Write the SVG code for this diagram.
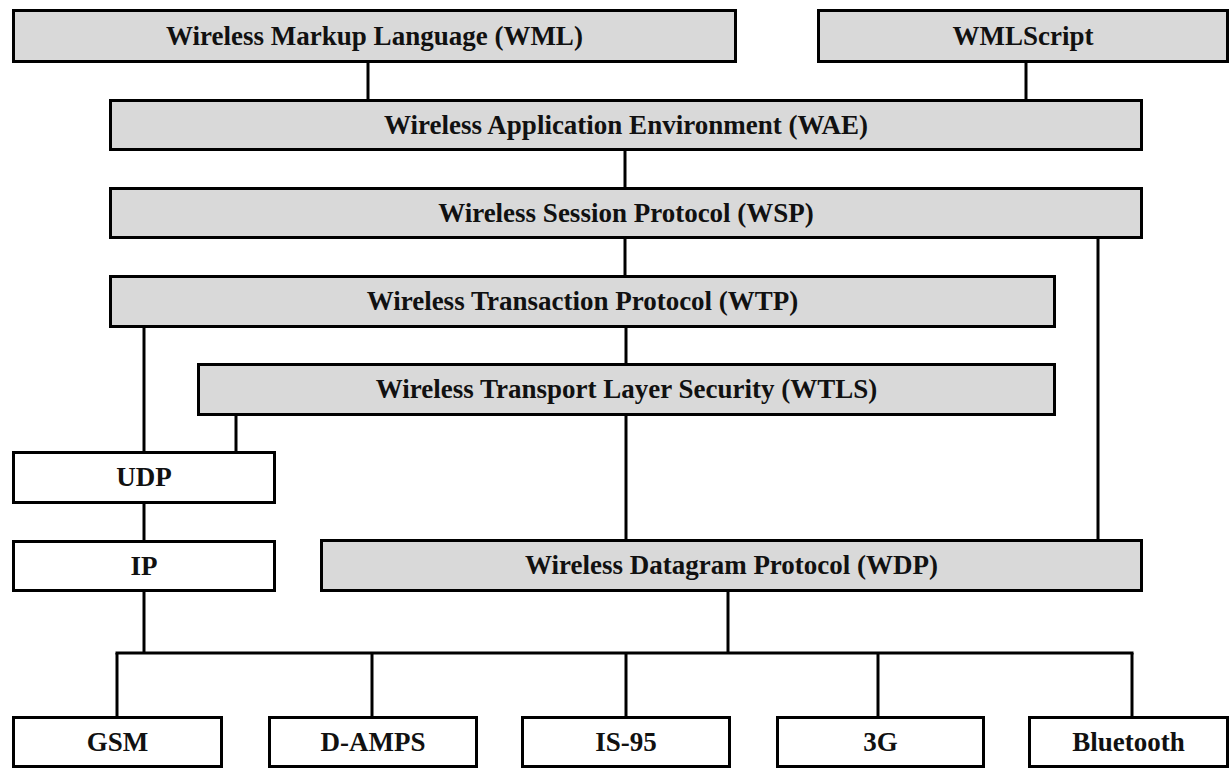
<svg xmlns="http://www.w3.org/2000/svg" width="1231" height="770" viewBox="0 0 1231 770">
<style>
.g{fill:#d9d9d9;stroke:#000;stroke-width:3}
.w{fill:#fff;stroke:#000;stroke-width:3}
.t{font-family:"Liberation Serif","Times New Roman",serif;font-weight:bold;font-size:27px;fill:#111;text-anchor:middle}
.c{stroke:#000;stroke-width:3;fill:none}
</style>
<rect width="1231" height="770" fill="#fff"/>
<g id="connectors">
<line class="c" x1="368" y1="63" x2="368" y2="99"/>
<line class="c" x1="1026" y1="63" x2="1026" y2="99"/>
<line class="c" x1="625" y1="151" x2="625" y2="187"/>
<line class="c" x1="625" y1="239" x2="625" y2="275"/>
<line class="c" x1="1098" y1="239" x2="1098" y2="539"/>
<line class="c" x1="144" y1="328" x2="144" y2="451"/>
<line class="c" x1="626" y1="328" x2="626" y2="363"/>
<line class="c" x1="236" y1="416" x2="236" y2="451"/>
<line class="c" x1="626" y1="416" x2="626" y2="539"/>
<line class="c" x1="144" y1="504" x2="144" y2="540"/>
<line class="c" x1="144" y1="592" x2="144" y2="653"/>
<line class="c" x1="728" y1="592" x2="728" y2="653"/>
<line class="c" x1="115.5" y1="653" x2="1133.5" y2="653"/>
<line class="c" x1="117" y1="653" x2="117" y2="716"/>
<line class="c" x1="372" y1="653" x2="372" y2="716"/>
<line class="c" x1="626" y1="653" x2="626" y2="716"/>
<line class="c" x1="878" y1="653" x2="878" y2="716"/>
<line class="c" x1="1132" y1="653" x2="1132" y2="716"/>
</g>
<g id="wml"><rect class="g" x="13.5" y="10.5" width="722" height="51"/><text class="t" x="374.5" y="45">Wireless Markup Language (WML)</text></g>
<g id="wmlscript"><rect class="g" x="818.5" y="10.5" width="409" height="51"/><text class="t" x="1023" y="45">WMLScript</text></g>
<g id="wae"><rect class="g" x="110.5" y="100.5" width="1031" height="49"/><text class="t" x="626" y="134">Wireless Application Environment (WAE)</text></g>
<g id="wsp"><rect class="g" x="110.5" y="188.5" width="1031" height="49"/><text class="t" x="626" y="222">Wireless Session Protocol (WSP)</text></g>
<g id="wtp"><rect class="g" x="110.5" y="276.5" width="944" height="50"/><text class="t" x="582.5" y="310">Wireless Transaction Protocol (WTP)</text></g>
<g id="wtls"><rect class="g" x="198.5" y="364.5" width="856" height="50"/><text class="t" x="626.5" y="398">Wireless Transport Layer Security (WTLS)</text></g>
<g id="udp"><rect class="w" x="13.5" y="452.5" width="261" height="50"/><text class="t" x="144" y="486">UDP</text></g>
<g id="ip"><rect class="w" x="13.5" y="541.5" width="261" height="49"/><text class="t" x="144" y="575">IP</text></g>
<g id="wdp"><rect class="g" x="321.5" y="540.5" width="820" height="50"/><text class="t" x="731.5" y="574">Wireless Datagram Protocol (WDP)</text></g>
<g id="gsm"><rect class="w" x="13.5" y="717.5" width="208" height="49"/><text class="t" x="117.5" y="751">GSM</text></g>
<g id="damps"><rect class="w" x="269.5" y="717.5" width="207" height="49"/><text class="t" x="373" y="751">D-AMPS</text></g>
<g id="is95"><rect class="w" x="522.5" y="717.5" width="207" height="49"/><text class="t" x="626" y="751">IS-95</text></g>
<g id="g3"><rect class="w" x="777.5" y="717.5" width="206" height="49"/><text class="t" x="880.5" y="751">3G</text></g>
<g id="bluetooth"><rect class="w" x="1029.5" y="717.5" width="198" height="49"/><text class="t" x="1128.5" y="751">Bluetooth</text></g>
</svg>
